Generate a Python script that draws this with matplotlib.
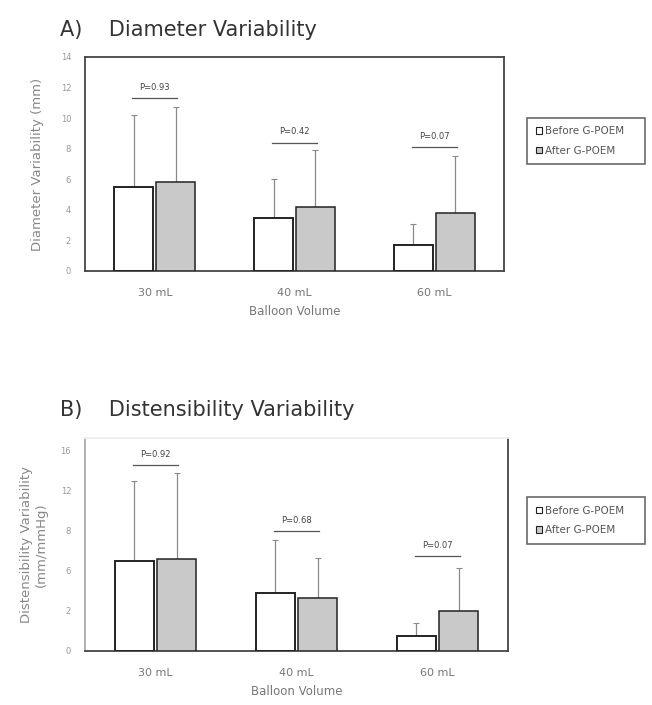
import matplotlib
matplotlib.use("Agg")
import matplotlib.pyplot as plt
import numpy as np
from matplotlib.patches import Patch

categories = ["30 mL", "40 mL", "60 mL"]
series_names = ["Before G-POEM", "After G-POEM"]

# Panel A: Diameter variability (mm)
a_before = [5.5, 3.5, 1.7]
a_before_err = [4.7, 2.5, 1.4]
a_after = [5.8, 4.2, 3.8]
a_after_err = [4.9, 3.7, 3.7]
a_pvals = ["P=0.93", "P=0.42", "P=0.07"]
a_pline = [11.3, 8.4, 8.1]
a_yticks = [0, 2, 4, 6, 8, 10, 12, 14]

# Panel B: Distensibility variability
b_before = [9.0, 5.8, 1.5]
b_before_err = [8.0, 5.3, 1.3]
b_after = [9.2, 5.3, 4.0]
b_after_err = [8.6, 4.0, 4.3]
b_pvals = ["P=0.92", "P=0.68", "P=0.07"]
b_pline = [18.6, 12.0, 9.5]
b_ytick_pos = [0, 4, 8, 12, 16, 20]
b_ytick_labels = ["0", "2", "6", "8", "12", "16"]

W, H = 652, 705
fig = plt.figure(figsize=(W / 100, H / 100), dpi=100)

def fr(l, t, r, b):
    return [l / W, 1 - b / H, (r - l) / W, (b - t) / H]

axA = fig.add_axes(fr(85, 57, 504, 271))
axB = fig.add_axes(fr(85, 438, 508, 651))

grey_fill = "#c9c9c9"
edge = "#222222"
x = np.arange(len(categories))
bw = 0.28
off = 0.15

def draw(ax, before, berr, after, aerr, pvals, pline, ptext_off):
    ax.bar(x - off, before, bw, color="white", edgecolor=edge, linewidth=1.4, zorder=3)
    ax.bar(x + off, after, bw, color=grey_fill, edgecolor=edge, linewidth=1.1, zorder=3)
    ax.errorbar(x - off, before, yerr=[np.zeros(3), berr], fmt="none",
                ecolor="#8a8a8a", elinewidth=0.9, capsize=2.5, capthick=0.8, zorder=2)
    ax.errorbar(x + off, after, yerr=[np.zeros(3), aerr], fmt="none",
                ecolor="#8a8a8a", elinewidth=0.9, capsize=2.5, capthick=0.8, zorder=2)
    for i in range(len(categories)):
        ax.plot([x[i] - 0.16, x[i] + 0.16], [pline[i], pline[i]], color="#555555", lw=0.9, zorder=4)
        ax.text(x[i], pline[i] + ptext_off, pvals[i], ha="center", va="bottom",
                fontsize=6, color="#444444", zorder=4)
    ax.set_xlim(-0.5, 2.5)
    ax.set_xticks(x)
    ax.set_xticklabels(categories, fontsize=8, color="#777777")
    ax.tick_params(axis="x", length=0, pad=12)
    ax.tick_params(axis="y", length=0, labelsize=6, labelcolor="#999999", pad=10)
    ax.set_xlabel("Balloon Volume", fontsize=8.5, color="#777777", labelpad=5)

draw(axA, a_before, a_before_err, a_after, a_after_err, a_pvals, a_pline, 0.4)
axA.set_ylim(0, 14)
axA.set_yticks(a_yticks)
axA.set_ylabel("Diameter Variability (mm)", fontsize=9.5, color="#888888", labelpad=12)
for s in axA.spines.values():
    s.set_color("#444444")
    s.set_linewidth(1.3)

draw(axB, b_before, b_before_err, b_after, b_after_err, b_pvals, b_pline, 0.6)
axB.set_ylim(0, 21.3)
axB.set_yticks(b_ytick_pos)
axB.set_yticklabels(b_ytick_labels)
axB.set_ylabel("Distensibility Variability\n(mm/mmHg)", fontsize=9.5, color="#888888", labelpad=9)
axB.spines["left"].set_color("#aaaaaa")
axB.spines["top"].set_color("#eeeeee")
axB.spines["right"].set_color("#444444")
axB.spines["bottom"].set_color("#444444")
for s in axB.spines.values():
    s.set_linewidth(1.3)

handles = [Patch(facecolor="white", edgecolor=edge, linewidth=0.8),
           Patch(facecolor=grey_fill, edgecolor=edge, linewidth=0.8)]
for ax, ytop, ybot in [(axA, 115, 167), (axB, 493, 548)]:
    leg = fig.legend(handles, series_names, loc="center left", mode="expand",
                     bbox_to_anchor=(522 / W, 1 - ybot / H, 128 / W, (ybot - ytop) / H),
                     fontsize=7.5, frameon=True, fancybox=False,
                     handlelength=0.6, handleheight=0.6,
                     handletextpad=0.3, borderpad=0.8, labelspacing=0.9, labelcolor="#555555")
    leg.get_frame().set_edgecolor("#444444")
    leg.get_frame().set_linewidth(1.2)

fig.text(60 / W, 1 - 30 / H, "A)    Diameter Variability", fontsize=15, color="#333333", va="center")
fig.text(60 / W, 1 - 410 / H, "B)    Distensibility Variability", fontsize=15, color="#333333", va="center")

fig.savefig("out.png", dpi=100, facecolor="white")
